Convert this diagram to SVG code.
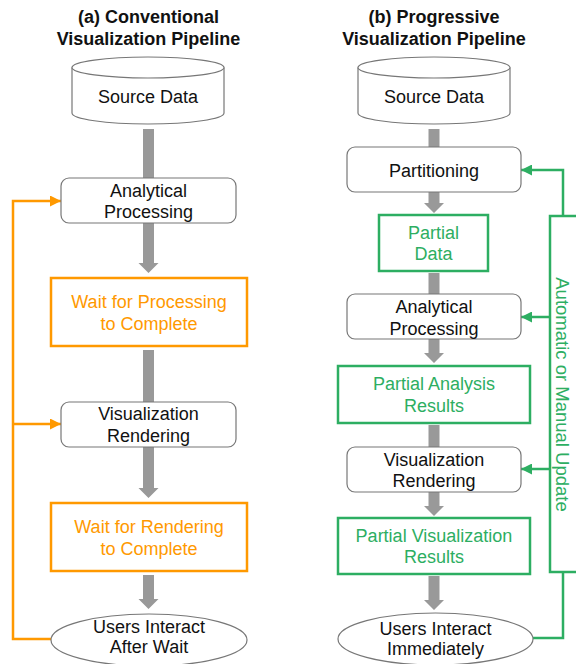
<svg xmlns="http://www.w3.org/2000/svg" width="576" height="664" viewBox="0 0 576 664">
<style>
text{font-family:"Liberation Sans",Arial,sans-serif;font-size:18px;text-anchor:middle;fill:#111}
.title{font-weight:bold;font-size:18px}
.proc{fill:#fff;stroke:#777;stroke-width:1.2}
.org{fill:#fff;stroke:#FF9900;stroke-width:2.5}
.grn{fill:#fff;stroke:#2DAE62;stroke-width:2.5}
.ot{fill:#FF9900}
.gt{fill:#2DAE62}
.flow{fill:#999;stroke:none}
.oline{fill:none;stroke:#FF9900;stroke-width:2.5}
.gline{fill:none;stroke:#2DAE62;stroke-width:2.5}
</style>
<defs>
<marker id="ao" viewBox="0 0 10 10" refX="10" refY="5" markerUnits="userSpaceOnUse" markerWidth="14" markerHeight="11" orient="auto"><path d="M0,0L10,5L0,10z" fill="#FF9900"/></marker>
<marker id="ag" viewBox="0 0 10 10" refX="10" refY="5" markerUnits="userSpaceOnUse" markerWidth="14" markerHeight="11" orient="auto"><path d="M0,0L10,5L0,10z" fill="#2DAE62"/></marker>
</defs>

<text class="title" x="148.5" y="23">(a) Conventional</text>
<text class="title" x="148.5" y="45">Visualization Pipeline</text>
<text class="title" x="434" y="23">(b) Progressive</text>
<text class="title" x="434" y="45">Visualization Pipeline</text>

<g id="connectors">
<polygon class="flow" points="143,129 154,129 154,180 143,180"/>
<polygon class="flow" points="143,223 154,223 154,263 158.5,263 148.5,273 138.5,263 143,263"/>
<polygon class="flow" points="143,350 154,350 154,404 143,404"/>
<polygon class="flow" points="143,447 154,447 154,488 158.5,488 148.5,498 138.5,488 143,488"/>
<polygon class="flow" points="143,575 154,575 154,599 158.5,599 148.5,609 138.5,599 143,599"/>

<polygon class="flow" points="428.5,129 439.5,129 439.5,149 428.5,149"/>
<polygon class="flow" points="428.5,192 439.5,192 439.5,203 444,203 434,213 424,203 428.5,203"/>
<polygon class="flow" points="428.5,273 439.5,273 439.5,296 428.5,296"/>
<polygon class="flow" points="428.5,339 439.5,339 439.5,353 444,353 434,363 424,353 428.5,353"/>
<polygon class="flow" points="428.5,425 439.5,425 439.5,449 428.5,449"/>
<polygon class="flow" points="428.5,492 439.5,492 439.5,506 444,506 434,516 424,506 428.5,506"/>
<polygon class="flow" points="428.5,576 439.5,576 439.5,600 444,600 434,610 424,600 428.5,600"/>

<path class="oline" d="M51,639 H13 V201 H61" marker-end="url(#ao)"/>
<path class="oline" d="M13,424 H61" marker-end="url(#ao)"/>

<path class="gline" d="M533,638 H563 V572"/>
<path class="gline" d="M563,216 V170 H521" marker-end="url(#ag)"/>
<path class="gline" d="M550,317 H521" marker-end="url(#ag)"/>
<path class="gline" d="M550,469 H521" marker-end="url(#ag)"/>
</g>

<g id="a-source">
<path class="proc" d="M72,67.5 V113 A76,11 0 0 0 224,113 V67.5"/>
<ellipse class="proc" cx="148" cy="67.5" rx="76" ry="10.5"/>
<text x="148" y="103">Source Data</text>
</g>
<g id="a-analytical">
<rect class="proc" x="61" y="178" width="175" height="45" rx="8"/>
<text x="148.5" y="197">Analytical</text>
<text x="148.5" y="218">Processing</text>
</g>
<g id="a-wait-proc">
<rect class="org" x="51" y="278" width="196" height="68"/>
<text class="ot" x="149" y="308">Wait for Processing</text>
<text class="ot" x="149" y="330">to Complete</text>
</g>
<g id="a-render">
<rect class="proc" x="61" y="402" width="175" height="45" rx="8"/>
<text x="148.5" y="420">Visualization</text>
<text x="148.5" y="442">Rendering</text>
</g>
<g id="a-wait-render">
<rect class="org" x="51" y="503" width="196" height="68"/>
<text class="ot" x="149" y="533">Wait for Rendering</text>
<text class="ot" x="149" y="555">to Complete</text>
</g>
<g id="a-users">
<ellipse class="proc" cx="149" cy="640" rx="98" ry="26"/>
<text x="149" y="633">Users Interact</text>
<text x="149" y="653">After Wait</text>
</g>

<g id="b-source">
<path class="proc" d="M358,67.5 V113 A76,11 0 0 0 510,113 V67.5"/>
<ellipse class="proc" cx="434" cy="67.5" rx="76" ry="10.5"/>
<text x="434" y="103">Source Data</text>
</g>
<g id="b-partitioning">
<rect class="proc" x="347" y="147" width="174" height="45" rx="8"/>
<text x="434" y="177">Partitioning</text>
</g>
<g id="b-partial-data">
<rect class="grn" x="379" y="215" width="109" height="56"/>
<text class="gt" x="433.5" y="239">Partial</text>
<text class="gt" x="433.5" y="260">Data</text>
</g>
<g id="b-analytical">
<rect class="proc" x="347" y="294" width="174" height="45" rx="8"/>
<text x="434" y="313">Analytical</text>
<text x="434" y="335">Processing</text>
</g>
<g id="b-partial-analysis">
<rect class="grn" x="338" y="366" width="192" height="57"/>
<text class="gt" x="434" y="390">Partial Analysis</text>
<text class="gt" x="434" y="412">Results</text>
</g>
<g id="b-render">
<rect class="proc" x="347" y="447" width="174" height="45" rx="8"/>
<text x="434" y="466">Visualization</text>
<text x="434" y="487">Rendering</text>
</g>
<g id="b-partial-vis">
<rect class="grn" x="338" y="518" width="192" height="56"/>
<text class="gt" x="434" y="542">Partial Visualization</text>
<text class="gt" x="434" y="563">Results</text>
</g>
<g id="b-users">
<ellipse class="proc" cx="435.5" cy="639" rx="97.5" ry="26"/>
<text x="435.5" y="635">Users Interact</text>
<text x="435.5" y="655">Immediately</text>
</g>
<g id="b-update">
<rect class="grn" x="550" y="216" width="40" height="356"/>
<text class="gt" transform="translate(556,394.5) rotate(90)" x="0" y="0" style="font-size:18.5px">Automatic or Manual Update</text>
</g>
</svg>
